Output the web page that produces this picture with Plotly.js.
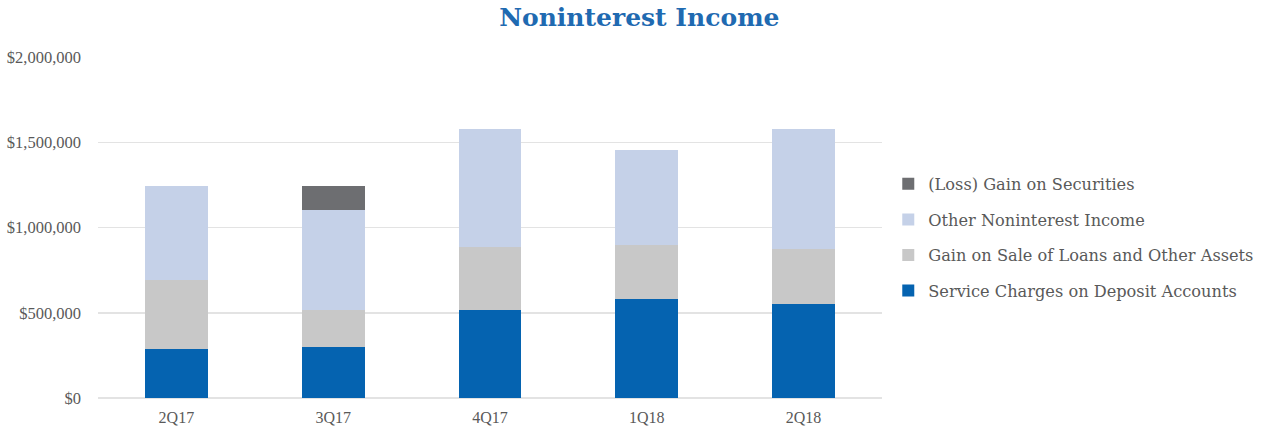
<!DOCTYPE html>
<html>
<head>
<meta charset="utf-8">
<script src="https://cdn.plot.ly/plotly-3.0.1.min.js"></script>
<style>html,body{margin:0;padding:0;background:#fff;}#chart{width:1271px;height:431px;}</style>
</head>
<body>
<div id="chart"></div>
<script>
const quarters = ["2Q17", "3Q17", "4Q17", "1Q18", "2Q18"];
const serviceCharges = [289000, 299000, 518000, 578000, 553000];
const gainOnSale = [405000, 219000, 367000, 317000, 322000];
const otherNoninterest = [552000, 586000, 693000, 560000, 703000];
const securitiesGain = [0, 142000, 0, 0, 0];
const seriesNames = ["Service Charges on Deposit Accounts", "Gain on Sale of Loans and Other Assets", "Other Noninterest Income", "(Loss) Gain on Securities"];
const yTickVals = [0, 500000, 1000000, 1500000, 2000000];
const yTickText = ["$0", "$500,000", "$1,000,000", "$1,500,000", "$2,000,000"];

const colors = ["#0563B0", "#C8C8C8", "#C5D1E8", "#6D6E71"];
const series = [serviceCharges, gainOnSale, otherNoninterest, securitiesGain];
const font = "Liberation Serif, serif";
const wideFont = "DejaVu Serif, serif";

const traces = series.map((vals, i) => ({
  type: "bar",
  name: seriesNames[i],
  x: quarters,
  y: vals,
  marker: {color: colors[i], line: {width: 0}},
  legendgroup: "g" + i,
  legendrank: 1000 - i,
  hoverinfo: "x+y+name"
}));

const layout = {
  width: 1271, height: 431,
  barmode: "stack",
  bargap: 0.6,
  paper_bgcolor: "#fff", plot_bgcolor: "#fff",
  margin: {l: 98, r: 389, t: 57, b: 33, pad: 0},
  title: {text: "<b>Noninterest Income</b>", x: 0.503, xanchor: "center", y: 0.96, yanchor: "middle",
          font: {family: wideFont, size: 25, color: "#1F6AB1"}},
  xaxis: {tickfont: {family: font, size: 16, color: "#595959"}, showline: false, ticks: "", showgrid: false,
          ticklabelstandoff: 8},
  yaxis: {range: [0, 2000000], tickvals: yTickVals, ticktext: yTickText,
          tickfont: {family: font, size: 16.5, color: "#595959"},
          gridcolor: "#E3E3E3", gridwidth: 1.5, zeroline: true, zerolinecolor: "#E3E3E3", zerolinewidth: 1.5,
          ticks: "", ticklen: 0, automargin: false, ticklabelstandoff: 16},
  legend: {x: 1.008, xanchor: "left", y: 0.678, yanchor: "top", traceorder: "grouped",
           tracegroupgap: 11.5, font: {family: wideFont, size: 16.2, color: "#595959"}, bgcolor: "rgba(0,0,0,0)"},
  showlegend: true
};

Plotly.newPlot("chart", traces, layout, {displayModeBar: false, staticPlot: true});
</script>
</body>
</html>
